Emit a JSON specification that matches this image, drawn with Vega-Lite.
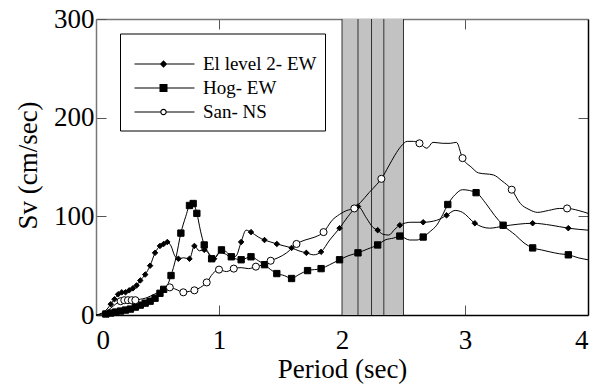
{
  "$schema": "https://vega.github.io/schema/vega-lite/v6.json",
  "width": 492,
  "height": 296,
  "autosize": "none",
  "padding": {"left": 96, "top": 19, "right": 6, "bottom": 69},
  "config": {
    "font": "Liberation Serif, Times New Roman, serif",
    "view": {"stroke": null},
    "axis": {
      "labelFont": "Liberation Serif, Times New Roman, serif",
      "titleFont": "Liberation Serif, Times New Roman, serif",
      "labelFontSize": 27,
      "titleFontSize": 27,
      "labelColor": "black",
      "titleColor": "black",
      "titleFontWeight": "normal",
      "grid": false,
      "tickColor": "#555",
      "tickWidth": 1,
      "domainWidth": 1.5
    },
    "legend": {
      "labelFont": "Liberation Serif, Times New Roman, serif",
      "labelFontSize": 19,
      "labelColor": "black"
    }
  },
  "datasets": {
    "band": [{"start": 2.0, "end": 2.5}],
    "dividers": [{"period": 2.0}, {"period": 2.13}, {"period": 2.24}, {"period": 2.34}, {"period": 2.5}],
    "spectra": [
      {"series": "El level 2- EW", "period": 0, "sv": 0},
      {"series": "El level 2- EW", "period": 0.03, "sv": 1},
      {"series": "El level 2- EW", "period": 0.06, "sv": 3},
      {"series": "El level 2- EW", "period": 0.09, "sv": 6},
      {"series": "El level 2- EW", "period": 0.12, "sv": 11},
      {"series": "El level 2- EW", "period": 0.15, "sv": 16},
      {"series": "El level 2- EW", "period": 0.18, "sv": 21},
      {"series": "El level 2- EW", "period": 0.21, "sv": 23},
      {"series": "El level 2- EW", "period": 0.24, "sv": 23},
      {"series": "El level 2- EW", "period": 0.27, "sv": 25},
      {"series": "El level 2- EW", "period": 0.3, "sv": 27},
      {"series": "El level 2- EW", "period": 0.33, "sv": 30},
      {"series": "El level 2- EW", "period": 0.36, "sv": 35},
      {"series": "El level 2- EW", "period": 0.4, "sv": 41},
      {"series": "El level 2- EW", "period": 0.44, "sv": 50},
      {"series": "El level 2- EW", "period": 0.48, "sv": 63},
      {"series": "El level 2- EW", "period": 0.52, "sv": 70},
      {"series": "El level 2- EW", "period": 0.55, "sv": 72},
      {"series": "El level 2- EW", "period": 0.58, "sv": 74},
      {"series": "El level 2- EW", "period": 0.61, "sv": 70},
      {"series": "El level 2- EW", "period": 0.64, "sv": 60},
      {"series": "El level 2- EW", "period": 0.67, "sv": 57},
      {"series": "El level 2- EW", "period": 0.71, "sv": 58},
      {"series": "El level 2- EW", "period": 0.76, "sv": 57},
      {"series": "El level 2- EW", "period": 0.8, "sv": 70},
      {"series": "El level 2- EW", "period": 0.84, "sv": 65},
      {"series": "El level 2- EW", "period": 0.88, "sv": 66},
      {"series": "El level 2- EW", "period": 0.92, "sv": 62},
      {"series": "El level 2- EW", "period": 0.96, "sv": 57},
      {"series": "El level 2- EW", "period": 1.0, "sv": 63},
      {"series": "El level 2- EW", "period": 1.05, "sv": 62},
      {"series": "El level 2- EW", "period": 1.1, "sv": 58},
      {"series": "El level 2- EW", "period": 1.14, "sv": 60},
      {"series": "El level 2- EW", "period": 1.18, "sv": 74},
      {"series": "El level 2- EW", "period": 1.22, "sv": 86},
      {"series": "El level 2- EW", "period": 1.26, "sv": 84},
      {"series": "El level 2- EW", "period": 1.32, "sv": 79},
      {"series": "El level 2- EW", "period": 1.37, "sv": 76},
      {"series": "El level 2- EW", "period": 1.42, "sv": 74},
      {"series": "El level 2- EW", "period": 1.47, "sv": 72},
      {"series": "El level 2- EW", "period": 1.53, "sv": 70},
      {"series": "El level 2- EW", "period": 1.59, "sv": 68},
      {"series": "El level 2- EW", "period": 1.65, "sv": 65},
      {"series": "El level 2- EW", "period": 1.71, "sv": 63},
      {"series": "El level 2- EW", "period": 1.77, "sv": 61},
      {"series": "El level 2- EW", "period": 1.83, "sv": 64},
      {"series": "El level 2- EW", "period": 1.9, "sv": 76},
      {"series": "El level 2- EW", "period": 1.98, "sv": 88},
      {"series": "El level 2- EW", "period": 2.05, "sv": 100},
      {"series": "El level 2- EW", "period": 2.13, "sv": 110},
      {"series": "El level 2- EW", "period": 2.2, "sv": 98},
      {"series": "El level 2- EW", "period": 2.25, "sv": 89},
      {"series": "El level 2- EW", "period": 2.29, "sv": 86},
      {"series": "El level 2- EW", "period": 2.33, "sv": 82},
      {"series": "El level 2- EW", "period": 2.38, "sv": 81},
      {"series": "El level 2- EW", "period": 2.43, "sv": 87},
      {"series": "El level 2- EW", "period": 2.47, "sv": 91},
      {"series": "El level 2- EW", "period": 2.56, "sv": 94},
      {"series": "El level 2- EW", "period": 2.66, "sv": 94},
      {"series": "El level 2- EW", "period": 2.77, "sv": 96},
      {"series": "El level 2- EW", "period": 2.85, "sv": 101},
      {"series": "El level 2- EW", "period": 2.92, "sv": 106},
      {"series": "El level 2- EW", "period": 2.98, "sv": 104},
      {"series": "El level 2- EW", "period": 3.08, "sv": 93},
      {"series": "El level 2- EW", "period": 3.2, "sv": 88},
      {"series": "El level 2- EW", "period": 3.31, "sv": 90},
      {"series": "El level 2- EW", "period": 3.43, "sv": 92},
      {"series": "El level 2- EW", "period": 3.55, "sv": 93},
      {"series": "El level 2- EW", "period": 3.7, "sv": 91},
      {"series": "El level 2- EW", "period": 3.84, "sv": 88},
      {"series": "El level 2- EW", "period": 4.0, "sv": 86},

      {"series": "Hog- EW", "period": 0, "sv": 0},
      {"series": "Hog- EW", "period": 0.04, "sv": 0},
      {"series": "Hog- EW", "period": 0.08, "sv": 1},
      {"series": "Hog- EW", "period": 0.12, "sv": 2},
      {"series": "Hog- EW", "period": 0.16, "sv": 3},
      {"series": "Hog- EW", "period": 0.2, "sv": 4},
      {"series": "Hog- EW", "period": 0.24, "sv": 5},
      {"series": "Hog- EW", "period": 0.28, "sv": 6},
      {"series": "Hog- EW", "period": 0.32, "sv": 8},
      {"series": "Hog- EW", "period": 0.36, "sv": 10},
      {"series": "Hog- EW", "period": 0.4, "sv": 12},
      {"series": "Hog- EW", "period": 0.44, "sv": 14},
      {"series": "Hog- EW", "period": 0.48, "sv": 17},
      {"series": "Hog- EW", "period": 0.52, "sv": 22},
      {"series": "Hog- EW", "period": 0.55, "sv": 26},
      {"series": "Hog- EW", "period": 0.58, "sv": 30},
      {"series": "Hog- EW", "period": 0.61, "sv": 40},
      {"series": "Hog- EW", "period": 0.65, "sv": 58},
      {"series": "Hog- EW", "period": 0.69, "sv": 83},
      {"series": "Hog- EW", "period": 0.73, "sv": 100},
      {"series": "Hog- EW", "period": 0.76, "sv": 111},
      {"series": "Hog- EW", "period": 0.79, "sv": 113},
      {"series": "Hog- EW", "period": 0.82, "sv": 103},
      {"series": "Hog- EW", "period": 0.85, "sv": 85},
      {"series": "Hog- EW", "period": 0.88, "sv": 71},
      {"series": "Hog- EW", "period": 0.91, "sv": 64},
      {"series": "Hog- EW", "period": 0.94, "sv": 57},
      {"series": "Hog- EW", "period": 0.97, "sv": 58},
      {"series": "Hog- EW", "period": 1.02, "sv": 66},
      {"series": "Hog- EW", "period": 1.06, "sv": 64},
      {"series": "Hog- EW", "period": 1.1, "sv": 59},
      {"series": "Hog- EW", "period": 1.18, "sv": 56},
      {"series": "Hog- EW", "period": 1.26, "sv": 59},
      {"series": "Hog- EW", "period": 1.32, "sv": 55},
      {"series": "Hog- EW", "period": 1.37, "sv": 51},
      {"series": "Hog- EW", "period": 1.42, "sv": 46},
      {"series": "Hog- EW", "period": 1.47, "sv": 42},
      {"series": "Hog- EW", "period": 1.53, "sv": 40},
      {"series": "Hog- EW", "period": 1.59, "sv": 37},
      {"series": "Hog- EW", "period": 1.65, "sv": 41},
      {"series": "Hog- EW", "period": 1.72, "sv": 45},
      {"series": "Hog- EW", "period": 1.83, "sv": 47},
      {"series": "Hog- EW", "period": 1.9, "sv": 51},
      {"series": "Hog- EW", "period": 1.98, "sv": 56},
      {"series": "Hog- EW", "period": 2.05, "sv": 60},
      {"series": "Hog- EW", "period": 2.13, "sv": 63},
      {"series": "Hog- EW", "period": 2.21, "sv": 67},
      {"series": "Hog- EW", "period": 2.29, "sv": 71},
      {"series": "Hog- EW", "period": 2.35, "sv": 76},
      {"series": "Hog- EW", "period": 2.42, "sv": 78},
      {"series": "Hog- EW", "period": 2.47, "sv": 80},
      {"series": "Hog- EW", "period": 2.55, "sv": 76},
      {"series": "Hog- EW", "period": 2.61, "sv": 76},
      {"series": "Hog- EW", "period": 2.66, "sv": 79},
      {"series": "Hog- EW", "period": 2.72, "sv": 85},
      {"series": "Hog- EW", "period": 2.77, "sv": 91},
      {"series": "Hog- EW", "period": 2.82, "sv": 102},
      {"series": "Hog- EW", "period": 2.86, "sv": 112},
      {"series": "Hog- EW", "period": 2.92, "sv": 122},
      {"series": "Hog- EW", "period": 2.98, "sv": 127},
      {"series": "Hog- EW", "period": 3.09, "sv": 124},
      {"series": "Hog- EW", "period": 3.17, "sv": 113},
      {"series": "Hog- EW", "period": 3.24, "sv": 101},
      {"series": "Hog- EW", "period": 3.31, "sv": 91},
      {"series": "Hog- EW", "period": 3.41, "sv": 81},
      {"series": "Hog- EW", "period": 3.48, "sv": 73},
      {"series": "Hog- EW", "period": 3.55, "sv": 68},
      {"series": "Hog- EW", "period": 3.62, "sv": 66},
      {"series": "Hog- EW", "period": 3.69, "sv": 64},
      {"series": "Hog- EW", "period": 3.77, "sv": 62},
      {"series": "Hog- EW", "period": 3.84, "sv": 61},
      {"series": "Hog- EW", "period": 3.92, "sv": 58},
      {"series": "Hog- EW", "period": 4.0, "sv": 56},

      {"series": "San- NS", "period": 0, "sv": 0},
      {"series": "San- NS", "period": 0.04, "sv": 1},
      {"series": "San- NS", "period": 0.08, "sv": 3},
      {"series": "San- NS", "period": 0.12, "sv": 7},
      {"series": "San- NS", "period": 0.16, "sv": 11},
      {"series": "San- NS", "period": 0.2, "sv": 14},
      {"series": "San- NS", "period": 0.23, "sv": 15},
      {"series": "San- NS", "period": 0.26, "sv": 15},
      {"series": "San- NS", "period": 0.29, "sv": 15},
      {"series": "San- NS", "period": 0.32, "sv": 15},
      {"series": "San- NS", "period": 0.36, "sv": 16},
      {"series": "San- NS", "period": 0.4, "sv": 17},
      {"series": "San- NS", "period": 0.44, "sv": 19},
      {"series": "San- NS", "period": 0.49, "sv": 22},
      {"series": "San- NS", "period": 0.55, "sv": 25},
      {"series": "San- NS", "period": 0.6, "sv": 28},
      {"series": "San- NS", "period": 0.65, "sv": 26},
      {"series": "San- NS", "period": 0.71, "sv": 23},
      {"series": "San- NS", "period": 0.76, "sv": 24},
      {"series": "San- NS", "period": 0.8, "sv": 25},
      {"series": "San- NS", "period": 0.85, "sv": 28},
      {"series": "San- NS", "period": 0.9, "sv": 33},
      {"series": "San- NS", "period": 0.95, "sv": 42},
      {"series": "San- NS", "period": 1.0, "sv": 46},
      {"series": "San- NS", "period": 1.06, "sv": 44},
      {"series": "San- NS", "period": 1.12, "sv": 47},
      {"series": "San- NS", "period": 1.18, "sv": 48},
      {"series": "San- NS", "period": 1.24, "sv": 47},
      {"series": "San- NS", "period": 1.3, "sv": 49},
      {"series": "San- NS", "period": 1.36, "sv": 51},
      {"series": "San- NS", "period": 1.42, "sv": 55},
      {"series": "San- NS", "period": 1.48, "sv": 58},
      {"series": "San- NS", "period": 1.55, "sv": 63},
      {"series": "San- NS", "period": 1.63, "sv": 72},
      {"series": "San- NS", "period": 1.7, "sv": 76},
      {"series": "San- NS", "period": 1.78, "sv": 79},
      {"series": "San- NS", "period": 1.85, "sv": 84},
      {"series": "San- NS", "period": 1.92, "sv": 96},
      {"series": "San- NS", "period": 1.98, "sv": 102},
      {"series": "San- NS", "period": 2.04, "sv": 106},
      {"series": "San- NS", "period": 2.1, "sv": 108},
      {"series": "San- NS", "period": 2.15, "sv": 114},
      {"series": "San- NS", "period": 2.22, "sv": 124},
      {"series": "San- NS", "period": 2.28, "sv": 132},
      {"series": "San- NS", "period": 2.32, "sv": 138},
      {"series": "San- NS", "period": 2.38, "sv": 151},
      {"series": "San- NS", "period": 2.43, "sv": 162},
      {"series": "San- NS", "period": 2.48, "sv": 171},
      {"series": "San- NS", "period": 2.53, "sv": 176},
      {"series": "San- NS", "period": 2.58, "sv": 176},
      {"series": "San- NS", "period": 2.63, "sv": 174},
      {"series": "San- NS", "period": 2.69, "sv": 169},
      {"series": "San- NS", "period": 2.74, "sv": 175},
      {"series": "San- NS", "period": 2.82, "sv": 174},
      {"series": "San- NS", "period": 2.88, "sv": 174},
      {"series": "San- NS", "period": 2.93, "sv": 175},
      {"series": "San- NS", "period": 2.98, "sv": 159},
      {"series": "San- NS", "period": 3.05, "sv": 150},
      {"series": "San- NS", "period": 3.11, "sv": 144},
      {"series": "San- NS", "period": 3.23, "sv": 142},
      {"series": "San- NS", "period": 3.3, "sv": 136},
      {"series": "San- NS", "period": 3.38, "sv": 127},
      {"series": "San- NS", "period": 3.45, "sv": 113},
      {"series": "San- NS", "period": 3.52, "sv": 107},
      {"series": "San- NS", "period": 3.59, "sv": 104},
      {"series": "San- NS", "period": 3.68, "sv": 106},
      {"series": "San- NS", "period": 3.77, "sv": 108},
      {"series": "San- NS", "period": 3.83, "sv": 108},
      {"series": "San- NS", "period": 3.92, "sv": 106},
      {"series": "San- NS", "period": 4.0, "sv": 103}
    ],
    "markers": [
      {"series": "El level 2- EW", "period": 0.12, "sv": 11},
      {"series": "El level 2- EW", "period": 0.15, "sv": 16},
      {"series": "El level 2- EW", "period": 0.18, "sv": 21},
      {"series": "El level 2- EW", "period": 0.21, "sv": 23},
      {"series": "El level 2- EW", "period": 0.24, "sv": 23},
      {"series": "El level 2- EW", "period": 0.27, "sv": 25},
      {"series": "El level 2- EW", "period": 0.3, "sv": 27},
      {"series": "El level 2- EW", "period": 0.33, "sv": 30},
      {"series": "El level 2- EW", "period": 0.36, "sv": 35},
      {"series": "El level 2- EW", "period": 0.4, "sv": 41},
      {"series": "El level 2- EW", "period": 0.44, "sv": 50},
      {"series": "El level 2- EW", "period": 0.48, "sv": 63},
      {"series": "El level 2- EW", "period": 0.52, "sv": 70},
      {"series": "El level 2- EW", "period": 0.55, "sv": 72},
      {"series": "El level 2- EW", "period": 0.58, "sv": 74},
      {"series": "El level 2- EW", "period": 0.67, "sv": 57},
      {"series": "El level 2- EW", "period": 0.76, "sv": 57},
      {"series": "El level 2- EW", "period": 0.8, "sv": 70},
      {"series": "El level 2- EW", "period": 0.88, "sv": 66},
      {"series": "El level 2- EW", "period": 0.96, "sv": 57},
      {"series": "El level 2- EW", "period": 1.18, "sv": 74},
      {"series": "El level 2- EW", "period": 1.26, "sv": 84},
      {"series": "El level 2- EW", "period": 1.37, "sv": 76},
      {"series": "El level 2- EW", "period": 1.47, "sv": 72},
      {"series": "El level 2- EW", "period": 1.59, "sv": 68},
      {"series": "El level 2- EW", "period": 1.71, "sv": 63},
      {"series": "El level 2- EW", "period": 1.83, "sv": 64},
      {"series": "El level 2- EW", "period": 1.98, "sv": 88},
      {"series": "El level 2- EW", "period": 2.13, "sv": 110},
      {"series": "El level 2- EW", "period": 2.29, "sv": 86},
      {"series": "El level 2- EW", "period": 2.47, "sv": 91},
      {"series": "El level 2- EW", "period": 2.66, "sv": 94},
      {"series": "El level 2- EW", "period": 2.85, "sv": 101},
      {"series": "El level 2- EW", "period": 3.08, "sv": 93},
      {"series": "El level 2- EW", "period": 3.31, "sv": 90},
      {"series": "El level 2- EW", "period": 3.55, "sv": 93},
      {"series": "El level 2- EW", "period": 3.84, "sv": 88},

      {"series": "Hog- EW", "period": 0.08, "sv": 1},
      {"series": "Hog- EW", "period": 0.12, "sv": 2},
      {"series": "Hog- EW", "period": 0.16, "sv": 3},
      {"series": "Hog- EW", "period": 0.2, "sv": 4},
      {"series": "Hog- EW", "period": 0.24, "sv": 5},
      {"series": "Hog- EW", "period": 0.28, "sv": 6},
      {"series": "Hog- EW", "period": 0.32, "sv": 8},
      {"series": "Hog- EW", "period": 0.36, "sv": 10},
      {"series": "Hog- EW", "period": 0.4, "sv": 12},
      {"series": "Hog- EW", "period": 0.44, "sv": 14},
      {"series": "Hog- EW", "period": 0.48, "sv": 17},
      {"series": "Hog- EW", "period": 0.52, "sv": 22},
      {"series": "Hog- EW", "period": 0.55, "sv": 26},
      {"series": "Hog- EW", "period": 0.61, "sv": 40},
      {"series": "Hog- EW", "period": 0.69, "sv": 83},
      {"series": "Hog- EW", "period": 0.76, "sv": 111},
      {"series": "Hog- EW", "period": 0.79, "sv": 113},
      {"series": "Hog- EW", "period": 0.82, "sv": 103},
      {"series": "Hog- EW", "period": 0.88, "sv": 71},
      {"series": "Hog- EW", "period": 0.94, "sv": 57},
      {"series": "Hog- EW", "period": 1.02, "sv": 66},
      {"series": "Hog- EW", "period": 1.1, "sv": 59},
      {"series": "Hog- EW", "period": 1.18, "sv": 56},
      {"series": "Hog- EW", "period": 1.26, "sv": 59},
      {"series": "Hog- EW", "period": 1.37, "sv": 51},
      {"series": "Hog- EW", "period": 1.47, "sv": 42},
      {"series": "Hog- EW", "period": 1.59, "sv": 37},
      {"series": "Hog- EW", "period": 1.72, "sv": 45},
      {"series": "Hog- EW", "period": 1.83, "sv": 47},
      {"series": "Hog- EW", "period": 1.98, "sv": 56},
      {"series": "Hog- EW", "period": 2.13, "sv": 63},
      {"series": "Hog- EW", "period": 2.29, "sv": 71},
      {"series": "Hog- EW", "period": 2.47, "sv": 80},
      {"series": "Hog- EW", "period": 2.66, "sv": 79},
      {"series": "Hog- EW", "period": 2.86, "sv": 112},
      {"series": "Hog- EW", "period": 3.09, "sv": 124},
      {"series": "Hog- EW", "period": 3.31, "sv": 91},
      {"series": "Hog- EW", "period": 3.55, "sv": 68},
      {"series": "Hog- EW", "period": 3.84, "sv": 61},

      {"series": "San- NS", "period": 0.2, "sv": 14},
      {"series": "San- NS", "period": 0.23, "sv": 15},
      {"series": "San- NS", "period": 0.26, "sv": 15},
      {"series": "San- NS", "period": 0.29, "sv": 15},
      {"series": "San- NS", "period": 0.32, "sv": 15},
      {"series": "San- NS", "period": 0.6, "sv": 28},
      {"series": "San- NS", "period": 0.71, "sv": 23},
      {"series": "San- NS", "period": 0.8, "sv": 25},
      {"series": "San- NS", "period": 0.9, "sv": 33},
      {"series": "San- NS", "period": 1.0, "sv": 46},
      {"series": "San- NS", "period": 1.12, "sv": 47},
      {"series": "San- NS", "period": 1.3, "sv": 49},
      {"series": "San- NS", "period": 1.42, "sv": 55},
      {"series": "San- NS", "period": 1.63, "sv": 72},
      {"series": "San- NS", "period": 1.85, "sv": 84},
      {"series": "San- NS", "period": 2.1, "sv": 108},
      {"series": "San- NS", "period": 2.32, "sv": 138},
      {"series": "San- NS", "period": 2.63, "sv": 174},
      {"series": "San- NS", "period": 2.98, "sv": 159},
      {"series": "San- NS", "period": 3.38, "sv": 127},
      {"series": "San- NS", "period": 3.83, "sv": 108}
    ]
  },
  "layer": [
    {
      "data": {"name": "band"},
      "mark": {"type": "rect", "fill": "#c2c2c2"},
      "encoding": {
        "x": {"field": "start", "type": "quantitative", "scale": {"domain": [0, 4], "nice": false, "zero": false}, "axis": null},
        "x2": {"field": "end"}
      }
    },
    {
      "data": {"name": "dividers"},
      "mark": {"type": "rule", "color": "#333", "strokeWidth": 1},
      "encoding": {
        "x": {"field": "period", "type": "quantitative", "axis": null}
      }
    },
    {
      "data": {"name": "spectra"},
      "mark": {"type": "line", "color": "black", "strokeWidth": 1, "interpolate": "monotone"},
      "encoding": {
        "x": {"field": "period", "type": "quantitative", "scale": {"domain": [0, 4], "nice": false},
              "axis": {"orient": "bottom", "title": "Period (sec)", "values": [0, 1, 2, 3, 4], "format": "d", "tickSize": -10, "labelPadding": 22,
                       "titleBaseline": "middle", "titleAlign": "center", "titleX": 246, "titleY": 54, "domainColor": "black"}},
        "y": {"field": "sv", "type": "quantitative", "scale": {"domain": [0, 300], "nice": false},
              "axis": {"orient": "left", "title": "Sv (cm/sec)", "values": [0, 100, 200, 300], "tickSize": -10, "labelPadding": 12,
                       "titleBaseline": "middle", "titleAlign": "center", "titleAngle": 270, "titleX": -68, "titleY": 146, "domainColor": "#777"}},
        "detail": {"field": "series"}
      }
    },
    {
      "data": {"name": "markers"},
      "mark": {"type": "point", "stroke": "black", "strokeWidth": 1, "opacity": 1, "filled": false},
      "encoding": {
        "x": {"field": "period", "type": "quantitative",
              "axis": {"orient": "top", "title": null, "labels": false, "values": [1, 2, 3], "tickSize": -10, "domainColor": "#777"}},
        "y": {"field": "sv", "type": "quantitative",
              "axis": {"orient": "right", "title": null, "labels": false, "values": [100, 200], "tickSize": -10, "domainColor": "black"}},
        "shape": {
          "field": "series", "type": "nominal",
          "scale": {"domain": ["El level 2- EW", "Hog- EW", "San- NS"], "range": ["diamond", "square", "circle"]},
          "legend": null
        },
        "fill": {
          "field": "series", "type": "nominal",
          "scale": {"domain": ["El level 2- EW", "Hog- EW", "San- NS"], "range": ["black", "black", "white"]},
          "legend": null
        },
        "size": {
          "field": "series", "type": "nominal",
          "scale": {"domain": ["El level 2- EW", "Hog- EW", "San- NS"], "range": [30, 50, 24]},
          "legend": null
        }
      }
    },
    {
      "data": {"name": "markers"},
      "mark": {"type": "point", "filled": true, "color": "black", "opacity": 0},
      "encoding": {
        "x": {"field": "period", "type": "quantitative", "axis": null},
        "y": {"field": "sv", "type": "quantitative", "axis": null},
        "shape": {
          "field": "series", "type": "nominal",
          "scale": {
            "domain": ["El level 2- EW", "Hog- EW", "San- NS"],
            "range": [
              "M-0.6,-0.1H11.4V0.1H-0.6ZM4.45,0L5.2,-0.75L5.95,0L5.2,0.75Z",
              "M-0.6,-0.1H11.4V0.1H-0.6ZM4.4,-0.8H6V0.8H4.4Z",
              "M-0.6,-0.1H4.6V0.1H-0.6ZM5.8,-0.1H11.4V0.1H5.8ZM5.85,0A0.65,0.65,0,1,1,4.55,0A0.65,0.65,0,1,1,5.85,0ZM5.62,0A0.42,0.42,0,1,0,4.78,0A0.42,0.42,0,1,0,5.62,0Z"
            ]
          },
          "legend": {
            "orient": "none", "legendX": 24, "legendY": 14.5,
            "title": " ", "titleFontSize": 6, "titlePadding": 7,
            "padding": 8, "strokeColor": "black", "fillColor": "white",
            "symbolSize": 100, "symbolOpacity": 1, "symbolFillColor": "black", "symbolStrokeColor": "black", "symbolStrokeWidth": 0,
            "labelOffset": 56, "rowPadding": 4,
            "labelFontSize": 19,
            "encode": {
              "legend": {"update": {"strokeWidth": {"value": 2}}}
            }
          }
        }
      }
    }
  ],
  "resolve": {
    "axis": {"x": "independent", "y": "independent"},
    "scale": {"shape": "independent"},
    "legend": {"shape": "independent"}
  }
}
